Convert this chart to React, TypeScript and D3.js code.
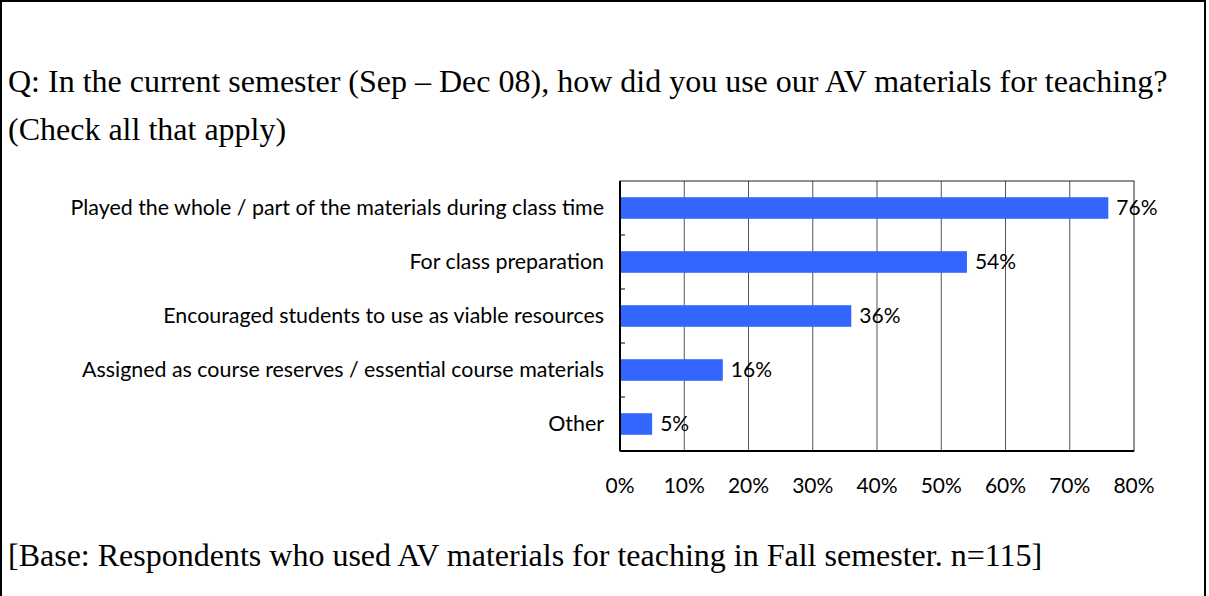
import { useEffect, useRef } from 'react';
import * as d3 from 'd3';

const categories = [
  'Played the whole / part of the materials during class time',
  'For class preparation',
  'Encouraged students to use as viable resources',
  'Assigned as course reserves / essential course materials',
  'Other',
];
const values = [76, 54, 36, 16, 5];
const ticks = [0, 10, 20, 30, 40, 50, 60, 70, 80];

const titleLines = [
  'Q: In the current semester (Sep \u2013 Dec 08), how did you use our AV materials for teaching?',
  '(Check all that apply)',
];
const footer = '[Base: Respondents who used AV materials for teaching in Fall semester. n=115]';

export default function App() {
  const svgRef = useRef<SVGSVGElement>(null);

  useEffect(() => {
    if (!svgRef.current) return;
    const svg = d3.select(svgRef.current);
    svg.selectAll('*').remove();

    const height = 596;
    const plot = { left: 620, right: 1134, top: 181, bottom: 451 };
    const serif = '"Liberation Serif", "Times New Roman", serif';
    const sans = 'Lato, "Open Sans", sans-serif';

    // outer frame
    svg.append('path')
      .attr('d', `M1,${height} V1 H1205 V${height}`)
      .attr('fill', 'none')
      .attr('stroke', '#000')
      .attr('stroke-width', 2);

    svg.append('g')
      .attr('font-family', serif)
      .attr('font-size', 32)
      .attr('fill', '#000')
      .selectAll('text')
      .data(titleLines)
      .join('text')
      .attr('x', 8)
      .attr('y', (d, i) => 92 + i * 48)
      .text(d => d);

    svg.append('text')
      .attr('x', 8)
      .attr('y', 566)
      .attr('font-family', serif)
      .attr('font-size', 32)
      .text(footer);

    const x = d3.scaleLinear().domain([0, 80]).range([plot.left, plot.right]);
    const y = d3.scaleBand<string>()
      .domain(categories)
      .range([plot.top, plot.bottom])
      .paddingInner(0.6)
      .paddingOuter(0.3);

    // vertical gridlines
    svg.append('g')
      .selectAll('line')
      .data(ticks.slice(1, -1))
      .join('line')
      .attr('x1', d => x(d))
      .attr('x2', d => x(d))
      .attr('y1', plot.top)
      .attr('y2', plot.bottom)
      .attr('stroke', '#555')
      .attr('stroke-width', 1);

    // plot frame
    svg.append('rect')
      .attr('x', plot.left)
      .attr('y', plot.top)
      .attr('width', plot.right - plot.left)
      .attr('height', plot.bottom - plot.top)
      .attr('fill', 'none')
      .attr('stroke', '#222')
      .attr('stroke-width', 1);

    // left axis, bottom axis, band ticks
    const step = (plot.bottom - plot.top) / categories.length;
    svg.append('line')
      .attr('x1', plot.left).attr('x2', plot.left)
      .attr('y1', plot.top).attr('y2', plot.bottom)
      .attr('stroke', '#000').attr('stroke-width', 2);
    svg.append('line')
      .attr('x1', plot.left).attr('x2', plot.right)
      .attr('y1', plot.bottom).attr('y2', plot.bottom)
      .attr('stroke', '#000').attr('stroke-width', 2);
    svg.append('g')
      .selectAll('line')
      .data(d3.range(1, categories.length))
      .join('line')
      .attr('x1', plot.left)
      .attr('x2', plot.left + 5)
      .attr('y1', i => plot.top + i * step)
      .attr('y2', i => plot.top + i * step)
      .attr('stroke', '#000');

    // bars
    svg.append('g')
      .selectAll('rect')
      .data(values)
      .join('rect')
      .attr('x', x(0) + 1)
      .attr('y', (d, i) => y(categories[i])!)
      .attr('width', d => x(d) - x(0) - 1)
      .attr('height', y.bandwidth())
      .attr('fill', '#3366FF');

    // value labels
    svg.append('g')
      .attr('font-family', sans)
      .attr('font-size', 21)
      .attr('fill', '#000')
      .selectAll('text')
      .data(values)
      .join('text')
      .attr('x', d => x(d) + 8)
      .attr('y', (d, i) => y(categories[i])! + y.bandwidth() / 2)
      .attr('dy', '0.35em')
      .text(d => `${d}%`);

    // category labels
    svg.append('g')
      .attr('font-family', sans)
      .attr('font-size', 21.4)
      .attr('fill', '#000')
      .attr('text-anchor', 'end')
      .selectAll('text')
      .data(categories)
      .join('text')
      .attr('x', plot.left - 16)
      .attr('y', d => y(d)! + y.bandwidth() / 2)
      .attr('dy', '0.35em')
      .text(d => d);

    // x tick labels
    svg.append('g')
      .attr('font-family', sans)
      .attr('font-size', 21)
      .attr('fill', '#000')
      .attr('text-anchor', 'middle')
      .selectAll('text')
      .data(ticks)
      .join('text')
      .attr('x', d => x(d))
      .attr('y', 486)
      .attr('dy', '0.35em')
      .text(d => `${d}%`);
  }, []);

  return (
    <svg
      ref={svgRef}
      width={1209}
      height={596}
      style={{ position: 'absolute', left: 0, top: 0, background: '#fff' }}
    />
  );
}
